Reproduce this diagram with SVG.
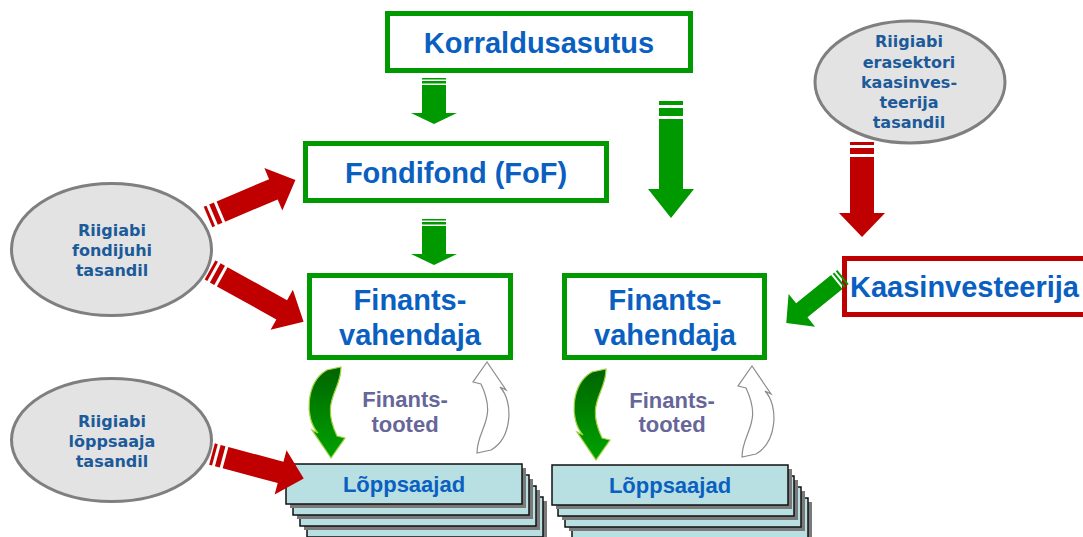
<svg xmlns="http://www.w3.org/2000/svg" width="1083" height="537" viewBox="0 0 1083 537">
<defs>
<style>
.box{fill:#fff;stroke:#009900;stroke-width:5}
.rbox{fill:#fff;stroke:#c00000;stroke-width:5}
.ell{fill:#e3e3e3;stroke:#7f7f7f;stroke-width:3}
.bt{font-family:"Liberation Sans",Arial,sans-serif;font-weight:bold;font-size:29px;fill:#0a60c0;text-anchor:middle}
.et{font-family:"DejaVu Sans",Verdana,sans-serif;font-weight:bold;font-size:16px;fill:#1c5a9a;text-anchor:middle}
.ft{font-family:"Liberation Sans",Arial,sans-serif;font-weight:bold;font-size:22px;fill:#666699;text-anchor:middle}
.lt{font-family:"Liberation Sans",Arial,sans-serif;font-weight:bold;font-size:22px;fill:#0a60c0;text-anchor:middle}
.card{fill:#b8dfe1;stroke:#111;stroke-width:1.5}
.shadow{fill:#7a7a7a}
.g{fill:#009900}
.r{fill:#c00000}
.cg{fill:url(#gg);stroke:#9fd23a;stroke-width:1.2}
.co{fill:#fff;stroke:#8c8c8c;stroke-width:1.2}
</style>
<linearGradient id="gg" x1="0" y1="0" x2="0" y2="1">
<stop offset="0" stop-color="#006400"/>
<stop offset="1" stop-color="#00a300"/>
</linearGradient>
<path id="curve" d="M327,370 L341,367 C341,392 320,400 337,436 L345,438 L331,458 L312,430 L318,433 C304,418 306,382 327,370 Z"/>
<g id="card">
<rect class="shadow" x="4" y="4" width="236" height="40"/>
<rect class="card" x="0" y="0" width="236" height="40"/>
</g>
</defs>

<g id="korraldusasutus">
<rect class="box" x="387.5" y="13.5" width="303" height="57"/>
<text class="bt" x="539" y="53">Korraldusasutus</text>
</g>

<g id="fondifond">
<rect class="box" x="305.5" y="143.5" width="301" height="57"/>
<text class="bt" x="456" y="183">Fondifond (FoF)</text>
</g>

<g id="finantsvahendaja1">
<rect class="box" x="309.5" y="275.5" width="201" height="82"/>
<text class="bt" x="410" y="310">Finants-</text>
<text class="bt" x="410" y="345">vahendaja</text>
</g>

<g id="finantsvahendaja2">
<rect class="box" x="564.5" y="275.5" width="200" height="82"/>
<text class="bt" x="665" y="310">Finants-</text>
<text class="bt" x="665" y="345">vahendaja</text>
</g>

<g id="kaasinvesteerija">
<rect class="rbox" x="844.5" y="258.5" width="250" height="56"/>
<text class="bt" x="850" y="297" style="text-anchor:start">Kaasinvesteerija</text>
</g>

<g id="riigiabi-erasektori">
<ellipse class="ell" cx="910" cy="82" rx="95" ry="61"/>
<text class="et" x="909" y="47">Riigiabi</text>
<text class="et" x="909" y="68">erasektori</text>
<text class="et" x="909" y="88">kaasinves-</text>
<text class="et" x="909" y="108">teerija</text>
<text class="et" x="909" y="128">tasandil</text>
</g>

<g id="riigiabi-fondijuhi">
<ellipse class="ell" cx="111.5" cy="249.5" rx="100" ry="66"/>
<text class="et" x="112" y="236">Riigiabi</text>
<text class="et" x="112" y="256">fondijuhi</text>
<text class="et" x="112" y="276">tasandil</text>
</g>

<g id="riigiabi-loppsaaja">
<ellipse class="ell" cx="111.5" cy="440" rx="100" ry="61.5"/>
<text class="et" x="112" y="427">Riigiabi</text>
<text class="et" x="112" y="447">lõppsaaja</text>
<text class="et" x="112" y="467">tasandil</text>
</g>

<g id="loppsaajad1">
<use href="#card" x="307" y="497"/>
<use href="#card" x="300" y="486"/>
<use href="#card" x="293" y="475"/>
<use href="#card" x="286" y="464"/>
<text class="lt" x="404" y="492">Lõppsaajad</text>
</g>

<g id="loppsaajad2">
<use href="#card" x="572" y="498"/>
<use href="#card" x="565" y="487"/>
<use href="#card" x="558" y="476"/>
<use href="#card" x="552" y="465"/>
<text class="lt" x="670" y="493">Lõppsaajad</text>
</g>

<g id="labels">
<text class="ft" x="405" y="407">Finants-</text>
<text class="ft" x="405" y="432">tooted</text>
<text class="ft" x="672" y="408">Finants-</text>
<text class="ft" x="672" y="432">tooted</text>
</g>

<g id="connectors">
<g class="g" transform="translate(434,78) rotate(90)">
<rect x="0" y="-12" width="1.5" height="24"/>
<rect x="3" y="-12" width="2.5" height="24"/>
<path d="M7,-12 L35,-12 L35,-23 L46,0 L35,23 L35,12 L7,12 Z"/>
</g>
<g class="g" transform="translate(434,219) rotate(90)">
<rect x="0" y="-12" width="1.5" height="24"/>
<rect x="3" y="-12" width="2.5" height="24"/>
<path d="M7,-12 L35,-12 L35,-23 L46,0 L35,23 L35,12 L7,12 Z"/>
</g>
<g class="g" transform="translate(671,101) rotate(90)">
<rect x="0" y="-12" width="4" height="24"/>
<rect x="7" y="-12" width="8" height="24"/>
<path d="M18,-12 L88,-12 L88,-23 L117,0 L88,23 L88,12 L18,12 Z"/>
</g>
<g class="r" transform="translate(862,142) rotate(90)">
<rect x="0" y="-12" width="3" height="24"/>
<rect x="6" y="-12" width="6" height="24"/>
<path d="M15,-12 L71,-12 L71,-23 L95,0 L71,23 L71,12 L15,12 Z"/>
</g>
<g class="g" transform="translate(843,277) rotate(141)">
<rect x="0" y="-9" width="2" height="18"/>
<rect x="4" y="-9" width="2" height="18"/>
<path d="M8,-9 L53,-9 L53,-21 L73,0 L53,21 L53,9 L8,9 Z"/>
</g>
<g class="r" transform="translate(208,217) rotate(-23)">
<rect x="0" y="-11" width="3" height="22"/>
<rect x="6" y="-11" width="5" height="22"/>
<path d="M14,-11 L71,-11 L71,-23 L95,0 L71,23 L71,11 L14,11 Z"/>
</g>
<g class="r" transform="translate(210,270) rotate(29)">
<rect x="0" y="-11" width="3" height="22"/>
<rect x="6" y="-11" width="5" height="22"/>
<path d="M14,-11 L82,-11 L82,-23 L107,0 L82,23 L82,11 L14,11 Z"/>
</g>
<g class="r" transform="translate(212,454) rotate(15)">
<rect x="0" y="-11" width="3" height="22"/>
<rect x="6" y="-11" width="5" height="22"/>
<path d="M14,-11 L71,-11 L71,-23 L95,0 L71,23 L71,11 L14,11 Z"/>
</g>
<use href="#curve" class="cg"/>
<use href="#curve" class="co" transform="rotate(180 409 410)"/>
<use href="#curve" class="cg" transform="translate(265,2)"/>
<use href="#curve" class="co" transform="translate(265,4) rotate(180 409 410)"/>
</g>
</svg>
